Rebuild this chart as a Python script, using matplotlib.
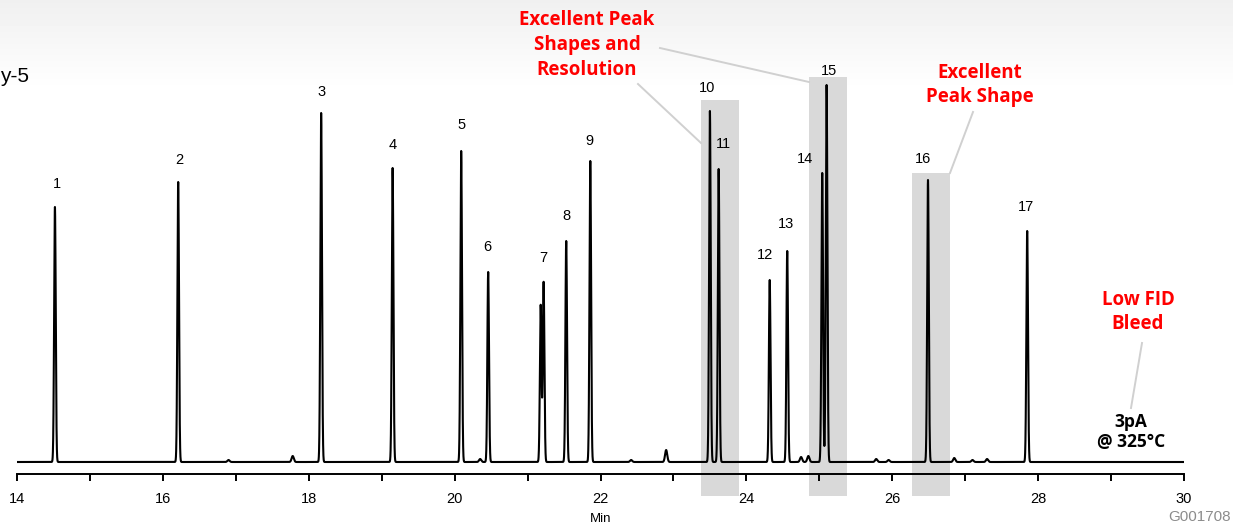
import matplotlib
matplotlib.use("Agg")
import matplotlib.pyplot as plt
from matplotlib.lines import Line2D
from matplotlib.patches import Rectangle
import numpy as np

# peak retention times (min) and heights (arbitrary detector units)
peak_times = [14.52, 16.21, 18.17, 19.15, 20.09, 20.46, 21.18, 21.22, 21.53, 21.86,
              23.50, 23.62, 24.32, 24.56, 25.04, 25.10, 26.49, 27.85]
peak_heights = [255, 280, 349, 294, 311, 190, 157, 180, 221, 301,
                351, 293, 182, 211, 289, 377, 282, 231]

# small baseline bumps
minor_times = [16.90, 17.78, 20.35, 22.42, 22.90, 24.75, 24.85, 25.78, 25.95, 26.85, 27.10, 27.30]
minor_heights = [2, 6, 3, 2, 12, 5, 6, 3, 2, 4, 2, 3]

# peak number labels
label_names = [str(i) for i in range(1, 18)]
label_x = [14.55, 16.23, 18.17, 19.15, 20.09, 20.45, 21.22, 21.53, 21.85,
           23.46, 23.68, 24.26, 24.55, 24.80, 25.13, 26.42, 27.84]
label_y = [278, 302, 370, 317, 337, 215, 204, 246, 321, 374, 318, 207, 238, 303, 391, 303, 255]

# highlight boxes (x0, x1, top)
box_x0 = [23.38, 24.86, 26.27]
box_x1 = [23.90, 25.38, 26.79]
box_top = [362, 385, 289]

W, H = 1233, 527
fig = plt.figure(figsize=(W / 100, H / 100), dpi=100)


def px(x, y):
    return x / W, 1 - y / H


# light gray fade at the top of the picture
bg = fig.add_axes([0, 0, 1, 1], zorder=-5)
grad = np.ones((H, 2))
rows = np.arange(H)
grad[:, :] = np.clip(0.94 + 0.06 * rows / 90.0, 0, 1)[:, None]
bg.imshow(grad, cmap="gray", vmin=0, vmax=1, aspect="auto", extent=[0, 1, 0, 1])
bg.axis("off")

ax = fig.add_axes([17 / W, (H - 474) / H, (1184 - 17) / W, 474 / H])
ax.patch.set_alpha(0)

t = np.arange(14.0, 30.0005, 0.001)
signal = np.zeros_like(t)
sigma = 0.011
for pt, ph in zip(peak_times, peak_heights):
    signal += ph * np.exp(-0.5 * ((t - pt) / sigma) ** 2)
for pt, ph in zip(minor_times, minor_heights):
    signal += ph * np.exp(-0.5 * ((t - pt) / 0.015) ** 2)

for x0, x1, top in zip(box_x0, box_x1, box_top):
    ax.add_patch(Rectangle((x0, -34), x1 - x0, top + 34, facecolor="#d9d9d9",
                           edgecolor="none", zorder=0, clip_on=False))

ax.plot(t, signal, color="black", lw=1.5, zorder=2)

for name, lx, ly in zip(label_names, label_x, label_y):
    ax.text(lx, ly, name, ha="center", va="center", fontsize=10.5,
            family="Liberation Sans", zorder=3)

ax.set_xlim(14, 30)
ax.set_ylim(-12, 462)
for s in ["top", "left", "right"]:
    ax.spines[s].set_visible(False)
ax.spines["bottom"].set_linewidth(1.4)
ax.set_yticks([])
ax.set_xticks(np.arange(14, 31, 2))
ax.set_xticks(np.arange(15, 30, 2), minor=True)
ax.tick_params(axis="x", which="both", direction="out", length=5, width=1.4,
               labelsize=10.5, pad=8)
for lab in ax.get_xticklabels():
    lab.set_family("Liberation Sans")
ax.set_xlabel("Min", fontsize=9.5, family="Liberation Sans", labelpad=5)

red = "#ff0000"
fig.text(*px(587, 45), "Excellent Peak\nShapes and\nResolution", color=red,
         fontsize=13.5, fontweight="bold", family="Open Sans", ha="center",
         va="center", linespacing=1.32)
fig.text(*px(980, 85), "Excellent\nPeak Shape", color=red, fontsize=13.5,
         fontweight="bold", family="Open Sans", ha="center", va="center",
         linespacing=1.3)
fig.text(*px(1138, 312), "Low FID\nBleed", color=red, fontsize=13.5,
         fontweight="bold", family="Open Sans", ha="center", va="center",
         linespacing=1.3)
fig.text(*px(1131, 432), "3pA\n@ 325°C", color="black", fontsize=12.5,
         fontweight="bold", family="Open Sans", ha="center", va="center",
         linespacing=1.2)
fig.text(*px(0, 76), "y-5", fontsize=15, family="Liberation Sans",
         ha="left", va="center")
fig.text(*px(1231, 517), "G001708", fontsize=11, color="#8c8c8c",
         family="Liberation Sans", ha="right", va="center")

# connector lines
for (xa, ya), (xb, yb) in [((638, 84), (701, 143)), ((660, 48), (809, 82)),
                           ((973, 112), (950, 173)), ((1142, 343), (1131, 408))]:
    a, b = px(xa, ya), px(xb, yb)
    fig.add_artist(Line2D([a[0], b[0]], [a[1], b[1]], color="#d0d0d0", lw=1.4))

fig.savefig("out.png", dpi=100)
